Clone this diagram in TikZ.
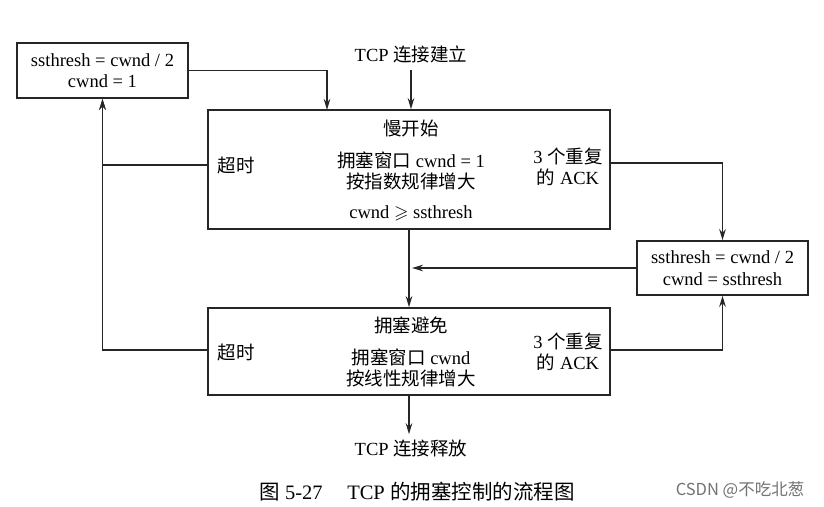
\documentclass[tikz,border=0pt]{standalone}
\usepackage{amssymb}
\usepackage{fontspec}
\setmainfont{Liberation Serif}
\newfontfamily\cjk{Noto Sans CJK SC}
\usetikzlibrary{arrows.meta}
\begin{document}
\begin{tikzpicture}[x=1pt,y=-1pt,
  box/.style={draw=black!85,line width=1.6pt,inner sep=0pt},
  txt/.style={font=\fontsize{18.5}{21.5}\selectfont,inner sep=0pt,align=center},
  conn/.style={draw=black!85,line width=1.9pt},
  arr/.style={conn,-{Stealth[length=11pt,width=6.5pt]}}]
\useasboundingbox[fill=white] (0,0) rectangle (824,506);
% boxes
\node[box,minimum width=171pt,minimum height=55pt,txt] (tl) at (102.5,70.5)
  {ssthresh = cwnd / 2\\cwnd = 1};
\node[box,minimum width=402pt,minimum height=119pt] (ss) at (409,169.5) {};
\node[box,minimum width=171pt,minimum height=54pt,txt] (rb) at (722.5,268)
  {ssthresh = cwnd / 2\\cwnd = ssthresh};
\node[box,minimum width=402pt,minimum height=87pt] (ca) at (409,351.5) {};
% texts
\node[txt] (start) at (411,54) {TCP {\cjk 连接建立}};
\node[txt] (ssname) at (411,128) {\cjk 慢开始};
\node[txt] (ssw) at (411,171) {{\cjk 拥塞窗口} cwnd = 1\\{\cjk 按指数规律增大}};
\node[txt] (sscond) at (411,213) {cwnd $\geqslant$ ssthresh};
\node[txt] (to1) at (236,165) {\cjk 超时};
\node[txt] (ack1) at (568,167) {3 {\cjk 个重复}\\{\cjk 的} ACK};
\node[txt] (caname) at (411,325) {\cjk 拥塞避免};
\node[txt] (caw) at (411,368) {{\cjk 拥塞窗口} cwnd\\{\cjk 按线性规律增大}};
\node[txt] (to2) at (236,352) {\cjk 超时};
\node[txt] (ack2) at (568,352) {3 {\cjk 个重复}\\{\cjk 的} ACK};
\node[txt] (end) at (411,448) {TCP {\cjk 连接释放}};
\node[txt,font=\fontsize{20.5}{23}\selectfont] (cap) at (417,492) {{\cjk 图} 5-27\hspace{1.2em}TCP {\cjk 的拥塞控制的流程图}};
\node[inner sep=0pt,text=black!55,font=\cjk\fontsize{16.5}{19}\selectfont] (wm) at (740,490) {CSDN @不吃北葱};
% connectors
\coordinate (ssin) at (327,110);
\draw[arr] (start.south) ++(0,7) -- (start.south |- ss.north);
\draw[arr] (tl.east) -| (ssin);
\draw[arr] (ss.west |- to1) -| (tl.south);
\draw[arr] (ca.west |- 0,350) -| (tl.south);
\draw[arr] (ss.east |- 0,163) -| (rb.north);
\draw[arr] (ca.east |- 0,350) -| (rb.south);
\draw[arr] (rb.west) -- ([xshift=3pt]rb.west -| ss.south);
\draw[arr] (ss.south) -- (ca.north);
\draw[arr] (ca.south) -- ([yshift=5pt]ca.south |- end.north);
\end{tikzpicture}
\end{document}
